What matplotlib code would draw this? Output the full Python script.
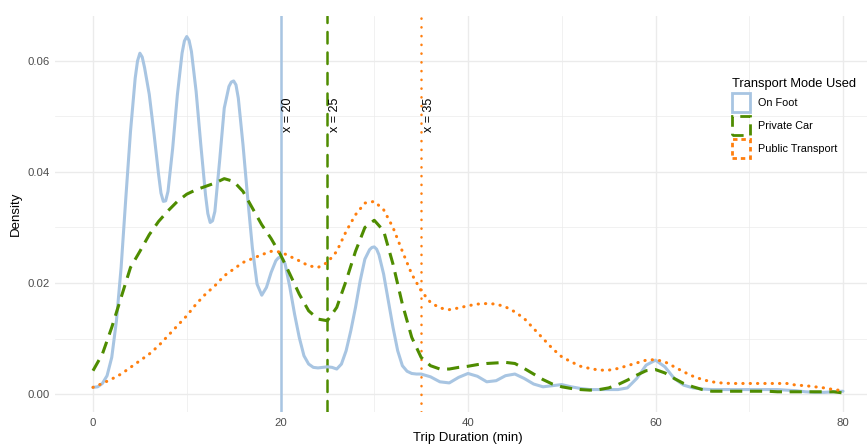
import numpy as np
import matplotlib
matplotlib.use("Agg")
import matplotlib.pyplot as plt
from matplotlib.patches import Patch

plt.rcParams['font.family'] = ['Liberation Sans', 'DejaVu Sans']

# ---- data ----
foot_minutes = [
    0, 0.5, 1, 1.5, 2, 2.5, 3, 3.5, 4, 4.5, 4.75, 5, 5.25, 5.5, 6, 6.5, 7, 7.25, 7.5,
    7.75, 8, 8.5, 9, 9.5, 9.75, 10, 10.25, 10.5, 11, 11.5, 12, 12.25, 12.5, 12.75, 13,
    13.5, 14, 14.5, 14.75, 15, 15.25, 15.5, 16, 16.5, 17, 17.5, 18, 18.5, 19, 19.5,
    19.75, 20, 20.25, 20.5, 21, 21.5, 22, 22.5, 23, 23.5, 24, 24.5, 25, 25.5, 26,
    26.5, 27, 27.5, 28, 28.5, 29, 29.5, 29.75, 30, 30.25, 30.5, 31, 31.5, 32, 32.5,
    33, 33.5, 34, 34.5, 35,
    36, 37, 38, 39, 40, 41, 42, 43, 44, 45, 46, 47, 48, 49, 50, 51, 52, 53, 54, 55,
    56, 57, 58, 59, 60, 61, 62, 63, 64, 65, 66, 67, 68, 69, 70, 71, 72, 73, 74, 75,
    76, 77, 78, 79, 80,
]
foot_density = [
    0.0012, 0.0013, 0.0019, 0.0033, 0.0066, 0.0132, 0.0228, 0.0353, 0.0473, 0.0569,
    0.0600, 0.0614, 0.0607, 0.0588, 0.0540, 0.0470, 0.0395, 0.0362, 0.0347, 0.0348,
    0.0365, 0.0443, 0.0539, 0.0614, 0.0636, 0.0644, 0.0637, 0.0617, 0.0545, 0.0449,
    0.0359, 0.0325, 0.0309, 0.0312, 0.0329, 0.0419, 0.0515, 0.0554, 0.0562, 0.0564,
    0.0557, 0.0533, 0.0449, 0.0353, 0.0263, 0.0198, 0.0178, 0.0192, 0.0219, 0.0240,
    0.0245, 0.0247, 0.0243, 0.0234, 0.0192, 0.0144, 0.0102, 0.0069, 0.0054, 0.0048,
    0.0047, 0.0048, 0.0049, 0.0048, 0.0045, 0.0054, 0.0078, 0.0114, 0.0156, 0.0204,
    0.0243, 0.0260, 0.0264, 0.0265, 0.0261, 0.0251, 0.0216, 0.0168, 0.0120, 0.0078,
    0.0051, 0.0041, 0.0037, 0.0036, 0.0036,
    0.0031, 0.0022, 0.0020, 0.0030, 0.0037, 0.0032, 0.0022, 0.0024, 0.0033, 0.0036,
    0.0028, 0.0018, 0.0013, 0.0015, 0.0017, 0.0013, 0.0010, 0.0008, 0.0008, 0.0008,
    0.0008, 0.0011, 0.0028, 0.0052, 0.0061, 0.0049, 0.0028, 0.0016, 0.0011, 0.0009,
    0.0008, 0.0008, 0.0008, 0.0008, 0.0008, 0.0008, 0.0008, 0.0008, 0.0007, 0.0006,
    0.0004, 0.0003, 0.0003, 0.0004, 0.0005,
]

minutes = np.arange(0, 81, 1)
car_density = [
    0.0042, 0.0072, 0.0120, 0.0174, 0.0228, 0.0257, 0.0287, 0.0311, 0.0330, 0.0347,
    0.0360, 0.0368, 0.0374, 0.0380, 0.0388, 0.0383, 0.0365, 0.0335, 0.0305, 0.0280,
    0.0251, 0.0216, 0.0180, 0.0150, 0.0135, 0.0132, 0.0156, 0.0204, 0.0257, 0.0300,
    0.0313, 0.0294, 0.0234, 0.0162, 0.0102, 0.0066, 0.0051, 0.0045, 0.0045, 0.0048,
    0.0050, 0.0053, 0.0055, 0.0056, 0.0057, 0.0055, 0.0046, 0.0036, 0.0026, 0.0018,
    0.0013, 0.0010, 0.0008, 0.0007, 0.0008, 0.0011, 0.0017, 0.0025, 0.0034, 0.0042,
    0.0044, 0.0038, 0.0028, 0.0019, 0.0013, 0.0008, 0.0005, 0.0005, 0.0005, 0.0005,
    0.0005, 0.0005, 0.0005, 0.0004, 0.0004, 0.0004, 0.0004, 0.0004, 0.0004, 0.0004,
    0.0002,
]
transit_density = [
    0.0012, 0.0019, 0.0027, 0.0036, 0.0048, 0.0060, 0.0072, 0.0087, 0.0105, 0.0123,
    0.0141, 0.0162, 0.0180, 0.0195, 0.0213, 0.0225, 0.0237, 0.0244, 0.0251, 0.0257,
    0.0256, 0.0248, 0.0240, 0.0231, 0.0228, 0.0237, 0.0257, 0.0293, 0.0323, 0.0344,
    0.0347, 0.0332, 0.0300, 0.0257, 0.0216, 0.0186, 0.0165, 0.0155, 0.0152, 0.0155,
    0.0159, 0.0162, 0.0163, 0.0162, 0.0157, 0.0148, 0.0136, 0.0118, 0.0100, 0.0082,
    0.0067, 0.0058, 0.0050, 0.0046, 0.0043, 0.0043, 0.0046, 0.0051, 0.0056, 0.0061,
    0.0062, 0.0058, 0.0049, 0.0040, 0.0032, 0.0026, 0.0022, 0.0020, 0.0019, 0.0019,
    0.0019, 0.0019, 0.0019, 0.0019, 0.0019, 0.0016, 0.0015, 0.0013, 0.0011, 0.0008,
    0.0006,
]

mode_labels = ["On Foot", "Private Car", "Public Transport"]
ref_lines = [20, 25, 35]
ref_labels = ["x = 20", "x = 25", "x = 35"]
x_ticks = [0, 20, 40, 60, 80]
y_ticks = [0.00, 0.02, 0.04, 0.06]

# ---- styles ----
c_foot = "#A8C5E2"
c_car = "#4E8C00"
c_transit = "#FF7F0E"
lw = 2.2
dash_style = (0, (4.0, 2.5))
dot_style = (0, (0.1, 2.3))

fig = plt.figure(figsize=(8.67, 4.45), dpi=100)
W, H = 867, 445
left, right, top, bottom = 55.5, 880.5, 16, 412
ax = fig.add_axes([left / W, 1 - bottom / H, (right - left) / W, (bottom - top) / H])

ax.set_xlim(-4, 84)
ax.set_ylim(-0.00324, 0.0681)

# grid (theme_minimal)
for xv in [10, 30, 50, 70]:
    ax.axvline(xv, color="#EBEBEB", lw=0.5, zorder=0)
for yv in [0.01, 0.03, 0.05]:
    ax.axhline(yv, color="#EBEBEB", lw=0.5, zorder=0)
for xv in x_ticks:
    ax.axvline(xv, color="#EBEBEB", lw=1.0, zorder=0)
for yv in y_ticks:
    ax.axhline(yv, color="#EBEBEB", lw=1.0, zorder=0)

ax.plot(foot_minutes, foot_density, color=c_foot, lw=lw, solid_capstyle="round",
        solid_joinstyle="round", zorder=3)
ax.plot(minutes, car_density, color=c_car, lw=lw, linestyle=dash_style, zorder=3)
ax.plot(minutes, transit_density, color=c_transit, lw=lw, linestyle=dot_style,
        dash_capstyle="round", zorder=3)

ref_colors = [c_foot, c_car, c_transit]
ref_styles = ["-", (0, (4.6, 3.6)), (0, (0.1, 3.4))]
for xv, col, ls in zip(ref_lines, ref_colors, ref_styles):
    ax.axvline(xv, color=col, lw=1.8, linestyle=ls, dash_capstyle="round", zorder=2)
for xv, lab in zip(ref_lines, ref_labels):
    ax.text(xv + 0.85, 0.0503, lab, rotation=90, ha="center", va="center",
            fontsize=9, color="black", zorder=4)

for s in ax.spines.values():
    s.set_visible(False)
ax.set_xticks(x_ticks)
ax.set_xticklabels([str(v) for v in x_ticks])
ax.set_yticks(y_ticks)
ax.set_yticklabels([f"{v:.2f}" for v in y_ticks])
ax.tick_params(length=0, labelsize=8.2, labelcolor="#4D4D4D", pad=4)
ax.set_xlabel("Trip Duration (min)", fontsize=9.5, labelpad=3)
ax.set_ylabel("Density", fontsize=9.5, labelpad=4)

handles = [
    Patch(facecolor="none", edgecolor=c_foot, lw=2.0, linestyle="-"),
    Patch(facecolor="none", edgecolor=c_car, lw=2.0, linestyle=(0, (4, 2.5))),
    Patch(facecolor="none", edgecolor=c_transit, lw=2.0, linestyle=(0, (1.6, 1.4))),
]
leg = fig.legend(handles, mode_labels, loc="upper left",
                 bbox_to_anchor=(724 / W, 1 - 70 / H), frameon=False,
                 title="Transport Mode Used", title_fontsize=9.3, fontsize=7.8,
                 handlelength=1.67, handleheight=2.3, labelspacing=0.36,
                 handletextpad=0.75, borderpad=0.2, alignment="left")

fig.savefig("out.png", dpi=100)
